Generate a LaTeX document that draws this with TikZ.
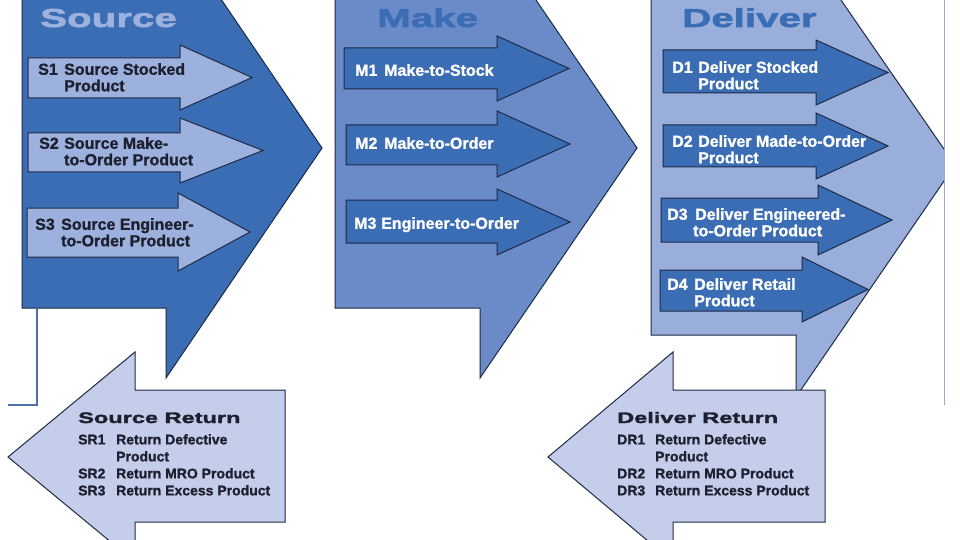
\documentclass[tikz,border=0pt]{standalone}
\usepackage{fontspec}
\setmainfont{Liberation Sans}[BoldFeatures={FakeBold=1.2}]
\newfontfamily\widefont[FakeStretch=1.55, BoldFeatures={FakeBold=2.2}]{Liberation Sans}

\definecolor{sourceblue}{HTML}{3B6DB5}
\definecolor{makeblue}{HTML}{6B8BC8}
\definecolor{deliverblue}{HTML}{9AAEDB}
\definecolor{paleblue}{HTML}{9DB1DE}
\definecolor{returnblue}{HTML}{C4CEEA}
\definecolor{edgeblue}{HTML}{1E2A45}
\definecolor{lineblue}{HTML}{4F6FA8}
\definecolor{inkdark}{HTML}{1E2030}

% right pointing step arrow: style, left x, top y, bottom y, head x, head top, tip x, head bottom
\newcommand{\steparrow}[8]{%
  \draw[#1] (#2,#3) -- (#5,#3) -- (#5,#6) -- (#7,{(#6+#8)/2}) -- (#5,#8) -- (#5,#4) -- (#2,#4) -- cycle;}

\tikzset{
  phase/.style={draw=edgeblue, line width=1pt, line join=miter},
  stepbox/.style={draw=edgeblue, line width=1pt},
  phasetitle/.style={font=\widefont\bfseries\fontsize{26}{28}\selectfont, anchor=base west, inner sep=0},
  steptext/.style={font=\bfseries\fontsize{16}{16.5}\selectfont, align=left, anchor=north west, inner sep=0},
  returntitle/.style={font=\widefont\bfseries\fontsize{15.2}{17}\selectfont, anchor=base west, inner sep=0, text=inkdark},
  returntext/.style={font=\bfseries\fontsize{14}{17}\selectfont, align=left, anchor=north west, inner sep=0, text=inkdark}
}

\begin{document}
\begin{tikzpicture}[x=1pt, y=-1pt]
	\useasboundingbox (0,0) rectangle (960,540);
	\clip (0,0) rectangle (960,540);

	% the three process chevrons
	\draw [phase, fill=sourceblue] (22,-100) -- (22,308) -- (166,308) -- (166,378) -- (322,148) -- (166,-82) -- (166,-100) -- cycle;
	\draw [phase, fill=makeblue] (335,-100) -- (335,308) -- (480,308) -- (480,378) -- (637,148) -- (480,-82) -- (480,-100) -- cycle;
	\begin{scope}
		\clip (0,0) rectangle (944,540);
		\draw [phase, fill=deliverblue] (651,-100) -- (651,335) -- (796,335) -- (796,397) -- (955,165) -- (796,-65) -- (796,-100) -- cycle;
	\end{scope}

	\draw [lineblue, line width=1.5pt] (37,308) -- (37,405) -- (8,405);
	\draw [lineblue!60, line width=1pt] (944,0) -- (944,405);

	% return arrows
	\draw [phase, fill=returnblue] (8,457) -- (135,352) -- (135,390) -- (285,390) -- (285,522) -- (135,522) -- (135,562) -- cycle;
	\draw [phase, fill=returnblue] (548,457) -- (673,352) -- (673,390) -- (825,390) -- (825,522) -- (673,522) -- (673,562) -- cycle;

	% step arrows
	\steparrow{stepbox, fill=paleblue}{28}{58}{98}{180}{45}{252}{110}
	\steparrow{stepbox, fill=paleblue}{28}{133}{172}{180}{118}{263}{183}
	\steparrow{stepbox, fill=paleblue}{27}{208}{257}{178}{193}{250}{271}
	\steparrow{stepbox, fill=sourceblue}{344}{48}{89}{497}{36}{569}{101}
	\steparrow{stepbox, fill=sourceblue}{346}{125}{165}{497}{111}{570}{177}
	\steparrow{stepbox, fill=sourceblue}{346}{200}{243}{497}{189}{570}{255}
	\steparrow{stepbox, fill=sourceblue}{663}{50}{93}{816}{40}{888}{105}
	\steparrow{stepbox, fill=sourceblue}{663}{125}{167}{816}{113}{888}{179}
	\steparrow{stepbox, fill=sourceblue}{661}{198}{242}{818}{185}{892}{255}
	\steparrow{stepbox, fill=sourceblue}{660}{270}{311}{802}{257}{868}{322}

	% titles
	\node [phasetitle, text=paleblue] (source) at (40,27) {Source};
	\node [phasetitle, text=sourceblue] (make) at (377,27) {Make};
	\node [phasetitle, text=sourceblue] (deliver) at (682,27) {Deliver};

	% step labels
	\node [steptext, text=inkdark] (s1) at (38,63) {\makebox[26pt][l]{S1}Source Stocked\\\hspace*{26pt}Product};
	\node [steptext, text=inkdark] (s2) at (39,137) {\makebox[25pt][l]{S2}Source Make-\\\hspace*{25pt}to-Order Product};
	\node [steptext, text=inkdark] (s3) at (35,218) {\makebox[26pt][l]{S3}Source Engineer-\\\hspace*{26pt}to-Order Product};
	\node [steptext, text=white] (m1) at (355,64) {\makebox[29pt][l]{M1}Make-to-Stock};
	\node [steptext, text=white] (m2) at (355,137) {\makebox[29pt][l]{M2}Make-to-Order};
	\node [steptext, text=white] (m3) at (354,217) {\makebox[27pt][l]{M3}Engineer-to-Order};
	\node [steptext, text=white] (d1) at (672,61) {\makebox[26pt][l]{D1}Deliver Stocked\\\hspace*{26pt}Product};
	\node [steptext, text=white] (d2) at (672,135) {\makebox[26pt][l]{D2}Deliver Made-to-Order\\\hspace*{26pt}Product};
	\node [steptext, text=white] (d3) at (667,208) {\makebox[28pt][l]{D3}Deliver Engineered-\\\hspace*{26pt}to-Order Product};
	\node [steptext, text=white] (d4) at (667,278) {\makebox[27pt][l]{D4}Deliver Retail\\\hspace*{27pt}Product};

	% return labels
	\node [returntitle] (sreturn) at (78,423) {Source Return};
	\node [returntext] (srlist) at (78,434) {\makebox[38pt][l]{SR1}Return Defective\\\hspace*{38pt}Product\\\makebox[38pt][l]{SR2}Return MRO Product\\\makebox[38pt][l]{SR3}Return Excess Product};
	\node [returntitle] (dreturn) at (617,423) {Deliver Return};
	\node [returntext] (drlist) at (617,434) {\makebox[38pt][l]{DR1}Return Defective\\\hspace*{38pt}Product\\\makebox[38pt][l]{DR2}Return MRO Product\\\makebox[38pt][l]{DR3}Return Excess Product};
\end{tikzpicture}
\end{document}
